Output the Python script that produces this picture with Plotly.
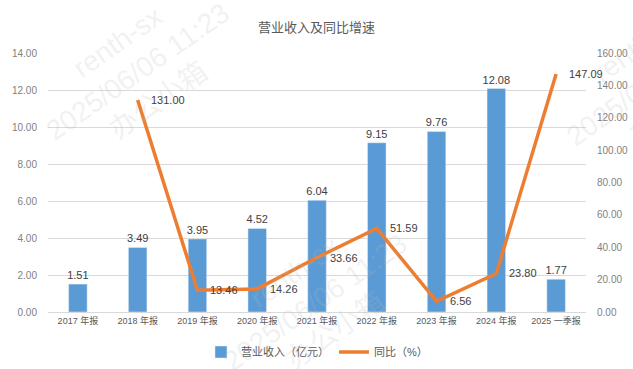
import plotly.graph_objects as go

categories = ["2017 年报", "2018 年报", "2019 年报", "2020 年报", "2021 年报",
              "2022 年报", "2023 年报", "2024 年报", "2025 一季报"]
revenue = [1.51, 3.49, 3.95, 4.52, 6.04, 9.15, 9.76, 12.08, 1.77]
growth = [None, 131.00, 13.46, 14.26, 33.66, 51.59, 6.56, 23.80, 147.09]
left_ticks = [0, 2, 4, 6, 8, 10, 12, 14]
right_ticks = [0, 20, 40, 60, 80, 100, 120, 140, 160]

FONT = "Liberation Sans, Noto Sans CJK SC, sans-serif"
TICK_COLOR = "#7f7f7f"
LABEL_COLOR = "#404040"

W, H = 633, 369
ML, MR, MT, MB = 48, 47, 53, 57

fig = go.Figure()
fig.add_trace(go.Bar(
    x=categories, y=revenue, name="营业收入（亿元）",
    marker=dict(color="#5B9BD5"),
    text=[f"{v:.2f}" for v in revenue], textposition="outside",
    constraintext="none",
    textfont=dict(size=11, color=LABEL_COLOR, family=FONT),
    cliponaxis=False, width=0.31,
))
fig.add_trace(go.Scatter(
    x=categories, y=growth, name="同比（%）", yaxis="y2", mode="lines",
    line=dict(color="#ED7D31", width=3.5),
    cliponaxis=False, connectgaps=False,
))

annotations = []
# line data labels, offset to the right of each point
for c, v in zip(categories, growth):
    if v is None:
        continue
    annotations.append(dict(
        x=c, y=v, xref="x", yref="y2", text=f"{v:.2f}", showarrow=False,
        xanchor="left", yanchor="middle", xshift=11,
        font=dict(size=11, color=LABEL_COLOR, family=FONT),
    ))

# watermarks (pixel centre positions converted to paper coords)
wm = [
    (117, 42, "renth-sx"), (138, 72, "2025/06/06 11:23"), (158, 100, "办公小箱"),
    (294, 272, "renth-sx"), (315, 302, "2025/06/06 11:23"), (335, 330, "办公小箱"),
    (637, 47, "renth-sx"), (658, 77, "2025/06/06 11:23"), (678, 105, "办公小箱"),
]
pw = W - ML - MR
ph = H - MT - MB
for x, y, t in wm:
    annotations.append(dict(
        x=(x - ML) / pw, y=(H - MB - y) / ph, xref="paper", yref="paper", text=t,
        xanchor="center", yanchor="middle",
        showarrow=False, textangle=-35,
        font=dict(size=28, color="rgba(185,185,185,0.2)", family=FONT),
    ))

fig.update_layout(
    width=W, height=H,
    margin=dict(l=ML, r=MR, t=MT, b=MB, autoexpand=False),
    paper_bgcolor="white", plot_bgcolor="white",
    title=dict(text="营业收入及同比增速", x=0.5, xanchor="center", y=1 - 27 / H, yanchor="middle",
               font=dict(size=13, color="#595959", family=FONT)),
    font=dict(family=FONT, color=TICK_COLOR, size=10),
    xaxis=dict(range=[-0.5, len(categories) - 0.5], autorange=False,
               showgrid=False, showline=True, linecolor="#D9D9D9", ticks="",
               automargin=False, tickfont=dict(size=9, color="#595959")),
    yaxis=dict(range=[0, 14], tickvals=left_ticks, tickformat=".2f",
               gridcolor="#D9D9D9", zeroline=False, showline=False, ticks="",
               automargin=False, ticklabelstandoff=10, tickfont=dict(size=10, color=TICK_COLOR)),
    yaxis2=dict(range=[0, 160], tickvals=right_ticks, tickformat=".2f",
                overlaying="y", side="right", showgrid=False, zeroline=False,
                automargin=False, ticks="", ticklabelstandoff=10,
                tickfont=dict(size=10, color=TICK_COLOR)),
    legend=dict(orientation="h", x=0.5, xanchor="center", y=1 - 352 / H, yanchor="middle",
                yref="container", font=dict(size=11, color="#595959")),
    showlegend=True,
    annotations=annotations,
)

fig.write_html("out.html", config={"displayModeBar": False},
               post_script="document.body.style.margin='0';")
